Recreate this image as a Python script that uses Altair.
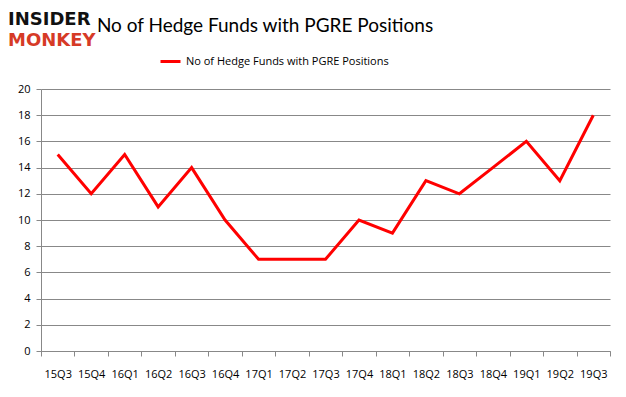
import altair as alt
import pandas as pd

quarters = ["15Q3", "15Q4", "16Q1", "16Q2", "16Q3", "16Q4", "17Q1", "17Q2", "17Q3",
            "17Q4", "18Q1", "18Q2", "18Q3", "18Q4", "19Q1", "19Q2", "19Q3"]
funds = [15, 12, 15, 11, 14, 10, 7, 7, 7, 10, 9, 13, 12, 14, 16, 13, 18]
series_name = "No of Hedge Funds with PGRE Positions"

df = pd.DataFrame({"quarter": quarters, "funds": funds, "series": [series_name] * len(quarters)})
one = pd.DataFrame({"k": [0]})

FONT = "Open Sans"

line = alt.Chart(df).mark_line(strokeWidth=3).encode(
    x=alt.X("quarter:N", sort=quarters, bandPosition=0.5,
            scale=alt.Scale(type="band", paddingInner=0, paddingOuter=0),
            axis=alt.Axis(title=None, labelAngle=0, tickBand="extent", grid=False,
                          domainColor="#888888", tickColor="#888888", tickSize=5,
                          labelPadding=12, labelFont=FONT, labelFontSize=11,
                          labelColor="#000000")),
    y=alt.Y("funds:Q", scale=alt.Scale(domain=[0, 20], nice=False),
            axis=alt.Axis(title=None, values=list(range(0, 21, 2)), labelOverlap=False,
                          gridColor="#888888", domainColor="#888888", tickColor="#888888",
                          tickSize=5, labelPadding=6, labelFont=FONT, labelFontSize=11,
                          labelColor="#000000")),
    color=alt.Color("series:N", scale=alt.Scale(range=["#ff0000"]),
                    legend=alt.Legend(title=None, orient="none", legendX=118, legendY=-39,
                                      symbolType="stroke", symbolStrokeWidth=3,
                                      symbolSize=400, labelFont=FONT, labelFontSize=11,
                                      labelLimit=400, labelColor="#000000")),
)

logo_top = alt.Chart(one).mark_text(text="INSIDER", font="DejaVu Sans", fontWeight="bold",
                                    fontSize=18, align="left", baseline="middle",
                                    color="#111111").encode(
    x=alt.value(-33), y=alt.value(-69))
logo_bot = alt.Chart(one).mark_text(text="MONKEY", font="DejaVu Sans", fontWeight="bold",
                                    fontSize=18, align="left", baseline="middle",
                                    color="#d63a26").encode(
    x=alt.value(-33), y=alt.value(-48))
title = alt.Chart(one).mark_text(text=series_name, font="Lato", fontSize=19,
                                 align="center", baseline="middle",
                                 color="#000000").encode(
    x=alt.value(224), y=alt.value(-63))

chart = alt.layer(line, logo_top, logo_bot, title).properties(
    width=569, height=262,
    autosize=alt.AutoSizeParams(type="none"),
    padding={"left": 33, "top": 81, "right": 8, "bottom": 38},
).configure_view(stroke=None)

chart.save("out.html", embed_options={"renderer": "svg", "actions": False})
